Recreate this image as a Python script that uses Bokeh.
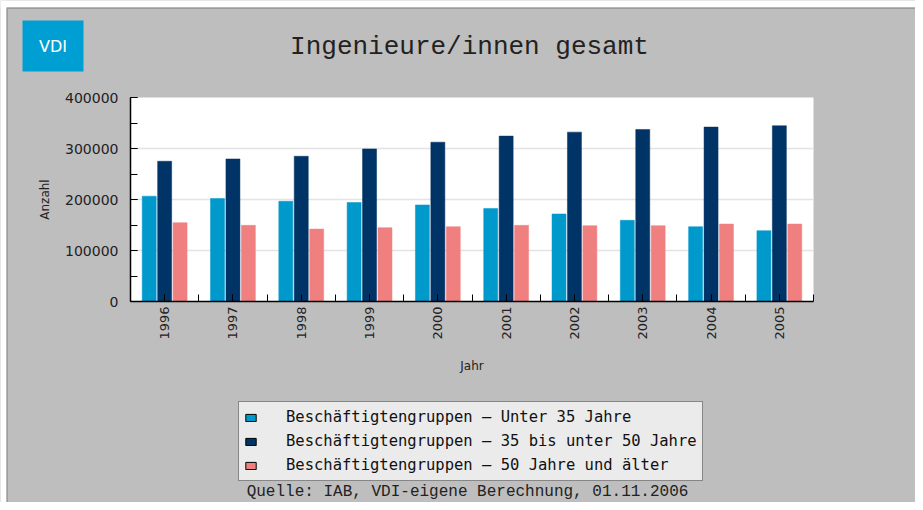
import numpy as np
from bokeh.plotting import figure
from bokeh.models import (Range1d, SingleIntervalTicker, Legend, LegendItem, Label,
                          BoxAnnotation, BasicTickFormatter, ColumnDataSource)
from bokeh.embed import file_html
from bokeh.resources import INLINE

# ---- data ----
years = ["1996", "1997", "1998", "1999", "2000", "2001", "2002", "2003", "2004", "2005"]
unter35 = [206500, 202000, 196600, 194100, 189300, 182200, 171600, 159200, 146700, 138900]
von35bis50 = [275000, 279500, 284800, 299200, 312400, 324300, 332100, 337300, 342000, 344600]
ab50 = [154600, 149300, 142000, 144800, 146700, 149300, 148700, 148700, 151900, 151900]
series_names = ["Beschäftigtengruppen – Unter 35 Jahre",
                "Beschäftigtengruppen – 35 bis unter 50 Jahre",
                "Beschäftigtengruppen – 50 Jahre und älter"]
series_values = [unter35, von35bis50, ab50]
colors = ["#0099cc", "#003366", "#f08080"]
y_grid_values = [100000, 200000, 300000]
y_max = 400000
title_text = "Ingenieure/innen gesamt"
source_text = "Quelle: IAB, VDI-eigene Berechnung, 01.11.2006"

# ---- layout constants (canvas pixels, from top-left) ----
W, H = 915, 502
FL, FR, FT, FB = 130, 813, 97, 301   # chart area
BG = "#bebebe"
n = len(years)
kx = (FR - FL) / n                 # px per category
ky = (FB - FT) / y_max             # px per unit
x_lo, x_hi = -0.5, n - 0.5

p = figure(width=W, height=H, output_backend="svg", toolbar_location=None,
           x_range=Range1d(x_lo - FL / kx, x_hi + (W - FR) / kx),
           y_range=Range1d(-(H - FB) / ky, y_max + FT / ky),
           min_border=0, min_border_left=0, min_border_right=0,
           min_border_top=0, min_border_bottom=0)
p.border_fill_color = BG
p.background_fill_color = BG
p.outline_line_color = None
p.grid.visible = False


def sy(img_y):
    return H - img_y


def scr(**kw):
    return {k + "_units": "screen" for k in kw}


# white chart background
p.add_layout(BoxAnnotation(left=x_lo, right=x_hi, bottom=0, top=y_max, level="image",
                           fill_color="white", fill_alpha=1, line_color=None))
# grid lines (only inside the chart area)
p.segment(x0=[x_lo] * len(y_grid_values), x1=[x_hi] * len(y_grid_values),
          y0=y_grid_values, y1=y_grid_values, line_color="#e3e3e3", line_width=1.5,
          level="underlay")

idx = np.arange(n)
offsets = [-0.226, 0.0, 0.226]
bw = 0.205
legend_items = []
for name, vals, off, col in zip(series_names, series_values, offsets, colors):
    src = ColumnDataSource(dict(x=idx + off, top=vals))
    p.vbar(x="x", top="top", width=bw, source=src, fill_color=col,
           line_color=col, line_width=0.5)
    r_leg = p.vbar(x="x", top="top", width=bw, source=src, fill_color=col,
                   line_color="black", line_width=1, visible=False)
    legend_items.append(LegendItem(label=name, renderers=[r_leg]))

# y axis
yax = p.yaxis[0]
yax.fixed_location = x_lo
yax.bounds = (0, y_max)
yax.ticker = SingleIntervalTicker(interval=100000, num_minor_ticks=2)
yax.formatter = BasicTickFormatter(use_scientific=False)
yax.major_tick_in = 7
yax.major_tick_out = 0
yax.minor_tick_in = 7
yax.minor_tick_out = 0
yax.axis_line_color = "black"
yax.axis_line_width = 1.5
yax.major_tick_line_color = "black"
yax.minor_tick_line_color = "black"
yax.major_label_text_font = "DejaVu Sans"
yax.major_label_text_font_size = "14px"
yax.major_label_text_color = "#222222"
yax.major_label_standoff = 12
yax.axis_label = "Anzahl"
yax.axis_label_text_font = "DejaVu Sans"
yax.axis_label_text_font_size = "12px"
yax.axis_label_text_font_style = "normal"
yax.axis_label_text_color = "#222222"
yax.axis_label_standoff = 10

# x axis
xax = p.xaxis[0]
xax.fixed_location = 0
xax.bounds = (x_lo, x_hi)
xax.ticker = SingleIntervalTicker(interval=1, num_minor_ticks=2)
xax.major_label_overrides = {int(i): y for i, y in zip(idx, years)}
xax.major_label_orientation = np.pi / 2
xax.major_tick_in = 0
xax.major_tick_out = 0
xax.minor_tick_in = 7
xax.minor_tick_out = 0
xax.axis_line_color = "black"
xax.axis_line_width = 1.5
xax.minor_tick_line_color = "black"
xax.major_label_text_font = "DejaVu Sans"
xax.major_label_text_font_size = "13px"
xax.major_label_text_color = "#222222"
xax.major_label_standoff = 5
xax.axis_label = "Jahr"
xax.axis_label_text_font = "DejaVu Sans"
xax.axis_label_text_font_size = "12px"
xax.axis_label_text_font_style = "normal"
xax.axis_label_text_color = "#222222"
xax.axis_label_standoff = 16

# legend
legend = Legend(items=legend_items, location=(238, H - 481), orientation="vertical")
legend.click_policy = "none"
legend.inactive_fill_alpha = 0
legend.background_fill_color = "#ebebeb"
legend.background_fill_alpha = 1
legend.border_line_color = "#222222"
legend.border_line_width = 1.5
legend.label_text_font = "DejaVu Sans Mono"
legend.label_text_font_size = "15.5px"
legend.label_text_color = "#111111"
legend.glyph_width = 13
legend.glyph_height = 9
legend.label_standoff = 29
legend.padding = 5
legend.margin = 0
legend.spacing = 4
legend.label_height = 20
p.add_layout(legend, "center")

# page decorations: white edge strips + dark border line
p.add_layout(BoxAnnotation(left=0, right=W, top=H, bottom=sy(7), **scr(left=1, right=1, top=1, bottom=1),
                           fill_color="white", fill_alpha=1, line_color=None))
p.add_layout(BoxAnnotation(left=0, right=6, top=H, bottom=0, **scr(left=1, right=1, top=1, bottom=1),
                           fill_color="white", fill_alpha=1, line_color=None))
p.add_layout(BoxAnnotation(left=6.5, right=W + 10, top=sy(7.5), bottom=-10,
                           **scr(left=1, right=1, top=1, bottom=1),
                           fill_alpha=0, line_color="#333333", line_width=1.5))

# logo, title, source
p.add_layout(BoxAnnotation(left=22, right=83, top=sy(20), bottom=sy(71),
                           **scr(left=1, right=1, top=1, bottom=1),
                           fill_color="#009fd3", fill_alpha=1, line_color=None))
p.add_layout(Label(x=52.5, y=sy(46), x_units="screen", y_units="screen", text="VDI",
                   text_align="center", text_baseline="middle", text_color="white",
                   text_font="DejaVu Sans", text_font_size="16px"))
p.add_layout(Label(x=469, y=sy(46), x_units="screen", y_units="screen", text=title_text,
                   text_align="center", text_baseline="middle", text_color="#222222",
                   text_font="Liberation Mono", text_font_size="26px"))
p.add_layout(Label(x=467, y=sy(491), x_units="screen", y_units="screen", text=source_text,
                   text_align="center", text_baseline="middle", text_color="#222222",
                   text_font="Liberation Mono", text_font_size="16px"))

open("out.html", "w").write(file_html(p, INLINE))
